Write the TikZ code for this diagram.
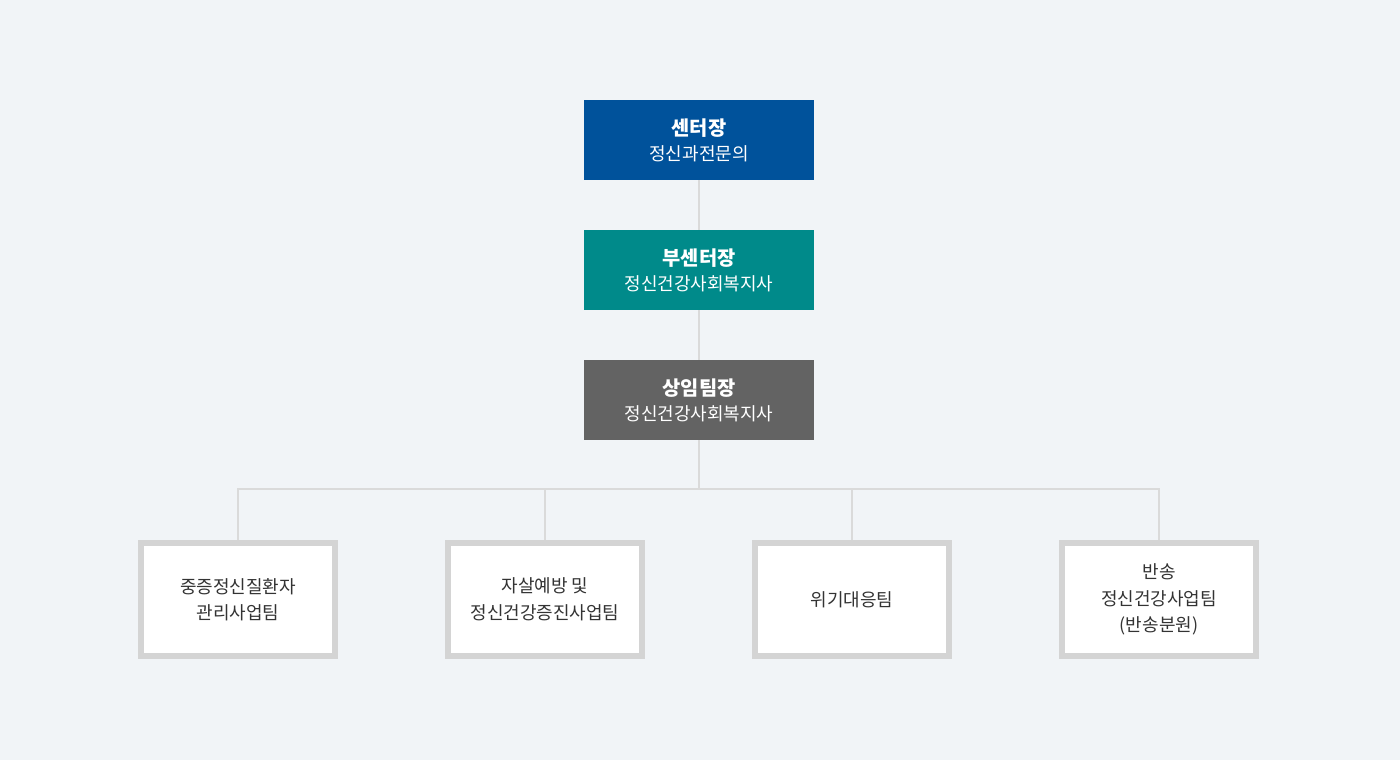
\documentclass[tikz,border=0pt]{standalone}
\usepackage{fontspec}
\setmainfont{Noto Sans CJK KR}
\definecolor{bg}{RGB}{241,244,247}
\definecolor{cblue}{RGB}{0,82,155}
\definecolor{cteal}{RGB}{0,138,138}
\definecolor{cgrey}{RGB}{99,99,99}
\definecolor{cborder}{RGB}{212,212,212}
\definecolor{cline}{RGB}{218,218,218}
\definecolor{ctext}{RGB}{51,51,51}
\tikzset{
  headbox/.style={minimum width=230pt, minimum height=80pt, inner sep=0pt, text=white, align=center,
    font=\fontsize{18}{25}\selectfont},
  teambox/.style={draw=cborder, line width=6pt, fill=white, minimum width=194pt, minimum height=113pt,
    inner sep=0pt, text=ctext, align=center, font=\fontsize{18}{26.5}\selectfont},
  conn/.style={draw=cline, line width=2pt}
}
\newcommand{\ttl}[1]{{\fontsize{19.8}{25}\selectfont\bfseries #1}}
\begin{document}
\begin{tikzpicture}[x=1pt,y=-1pt]
\fill[bg] (0,0) rectangle (1400,760);
\useasboundingbox (0,0) rectangle (1400,760);
\node[headbox, fill=cblue] (a) at (699,140) {\ttl{센터장}\\정신과전문의};
\node[headbox, fill=cteal] (b) at (699,270) {\ttl{부센터장}\\정신건강사회복지사};
\node[headbox, fill=cgrey] (c) at (699,400) {\ttl{상임팀장}\\정신건강사회복지사};
\node[teambox] (t1) at (238,599.5) {중증정신질환자\\관리사업팀};
\node[teambox] (t2) at (545,599.5) {자살예방 및\\정신건강증진사업팀};
\node[teambox] (t3) at (852,599.5) {위기대응팀};
\node[teambox] (t4) at (1159,599.5) {반송\\정신건강사업팀\\(반송분원)};
\coordinate (j) at (699,489);
\draw[conn] (a.south) -- (b.north);
\draw[conn] (b.south) -- (c.north);
\draw[conn] (c.south) -- (j);
\draw[conn] (j) -| (t1.north);
\draw[conn] (j) -| (t2.north);
\draw[conn] (j) -| (t3.north);
\draw[conn] (j) -| (t4.north);
\end{tikzpicture}
\end{document}
